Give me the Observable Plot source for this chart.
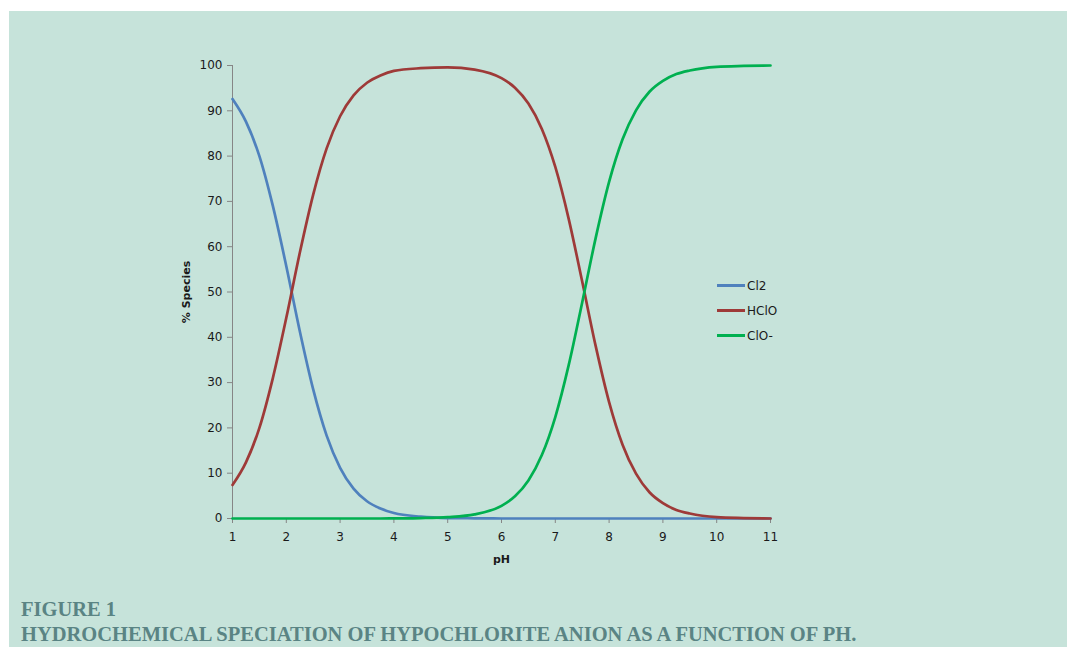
<!DOCTYPE html>
<html>
<head>
<meta charset="utf-8">
<script src="https://cdn.jsdelivr.net/npm/d3@7"></script>
<script src="https://cdn.jsdelivr.net/npm/@observablehq/plot@0.6"></script>
<style>
  html, body { margin: 0; padding: 0; background: #ffffff; }
  #panel { position: absolute; left: 9px; top: 11px; width: 1058px; height: 636px; background: #c6e3da; }
  #chart { position: absolute; left: 0; top: 0; }
  #legend { position: absolute; left: 708px; top: 262px; font-family: "DejaVu Sans", sans-serif; font-size: 12px; color: #1a1a1a; }
  .lg { display: flex; align-items: center; height: 25px; }
  .lg span.sw { display: inline-block; width: 28px; height: 3px; margin-right: 2px; }
  #caption { position: absolute; left: 12px; top: 586px; font-family: "Liberation Serif", "DejaVu Serif", serif; font-weight: bold; color: #5a8484; font-size: 20.5px; line-height: 25px; white-space: nowrap; }
</style>
</head>
<body>
<div id="panel">
  <div id="chart"></div>
  <div id="legend"></div>
  <div id="caption">FIGURE 1<br>HYDROCHEMICAL SPECIATION OF HYPOCHLORITE ANION AS A FUNCTION OF PH.</div>
</div>
<script>
const pH = [1, 1.25, 1.5, 1.75, 2, 2.25, 2.5, 2.75, 3, 3.25, 3.5, 3.75, 4, 4.5, 5, 5.5, 6, 6.25, 6.5, 6.75, 7, 7.25, 7.5, 7.75, 8, 8.25, 8.5, 8.75, 9, 9.25, 9.5, 10, 10.5, 11];
const cl2 = [92.6, 87.6, 80.0, 69.0, 55.7, 41.4, 28.5, 18.3, 11.2, 6.6, 3.8, 2.2, 1.2, 0.4, 0.1, 0.04, 0, 0, 0, 0, 0, 0, 0, 0, 0, 0, 0, 0, 0, 0, 0, 0, 0, 0];
const hclo = [7.4, 12.4, 20.0, 31.0, 44.3, 58.6, 71.5, 81.7, 88.8, 93.4, 96.2, 97.8, 98.8, 99.4, 99.6, 99.1, 97.2, 95.1, 91.6, 86.0, 77.6, 66.1, 52.3, 38.1, 25.7, 16.3, 9.9, 5.8, 3.4, 1.9, 1.1, 0.3, 0.1, 0];
const clo = [0, 0, 0, 0, 0, 0, 0, 0, 0, 0, 0, 0, 0.03, 0.1, 0.3, 0.9, 2.8, 4.9, 8.4, 14.0, 22.4, 33.9, 47.7, 61.9, 74.3, 83.7, 90.1, 94.2, 96.6, 98.1, 98.9, 99.7, 99.9, 100];
const seriesNames = ["Cl2", "HClO", "ClO-"];
const seriesColors = ["#4f81bd", "#9e3a38", "#00b050"];
const xTicks = [1, 2, 3, 4, 5, 6, 7, 8, 9, 10, 11];
const yTicks = [0, 10, 20, 30, 40, 50, 60, 70, 80, 90, 100];

const seriesValues = [cl2, hclo, clo];
const rows = [];
seriesNames.forEach((name, i) => {
  pH.forEach((p, j) => rows.push({series: name, pH: p, value: seriesValues[i][j]}));
});

const chart = Plot.plot({
  width: 1058,
  height: 570,
  marginLeft: 223,
  marginRight: 297,
  marginTop: 54,
  marginBottom: 63,
  style: { background: "transparent", fontFamily: "'DejaVu Sans', sans-serif", fontSize: "12px", color: "#1a1a1a" },
  x: { domain: [1, 11] },
  y: { domain: [0, 100] },
  color: { domain: seriesNames, range: seriesColors },
  marks: [
    Plot.axisX({ ticks: xTicks, tickSize: 5, stroke: "#868686", strokeOpacity: 1, tickPadding: 9, label: null, fill: "#1a1a1a", tickFormat: d => String(d) }),
    Plot.axisY({ ticks: yTicks, tickSize: 5, stroke: "#868686", strokeOpacity: 1, tickPadding: 5, label: null, fill: "#1a1a1a", tickFormat: d => String(d) }),
    Plot.axisX({ ticks: [], label: "pH", labelAnchor: "center", labelArrow: "none", labelOffset: 44, fontWeight: "bold", fontSize: 11 }),
    Plot.axisY({ ticks: [], label: "% Species", labelAnchor: "center", labelArrow: "none", labelOffset: 50, fontWeight: "bold", fontSize: 11 }),
    Plot.ruleX([1], { stroke: "#868686" }),
    Plot.ruleY([0], { stroke: "#868686" }),
    Plot.line(rows, { x: "pH", y: "value", z: "series", stroke: "series", strokeWidth: 2.7, curve: "monotone-x" })
  ]
});
document.getElementById("chart").appendChild(chart);

const legend = document.getElementById("legend");
seriesNames.forEach((name, i) => {
  const row = document.createElement("div");
  row.className = "lg";
  row.innerHTML = `<span class="sw" style="background:${seriesColors[i]}"></span><span>${name}</span>`;
  legend.appendChild(row);
});
</script>
</body>
</html>
